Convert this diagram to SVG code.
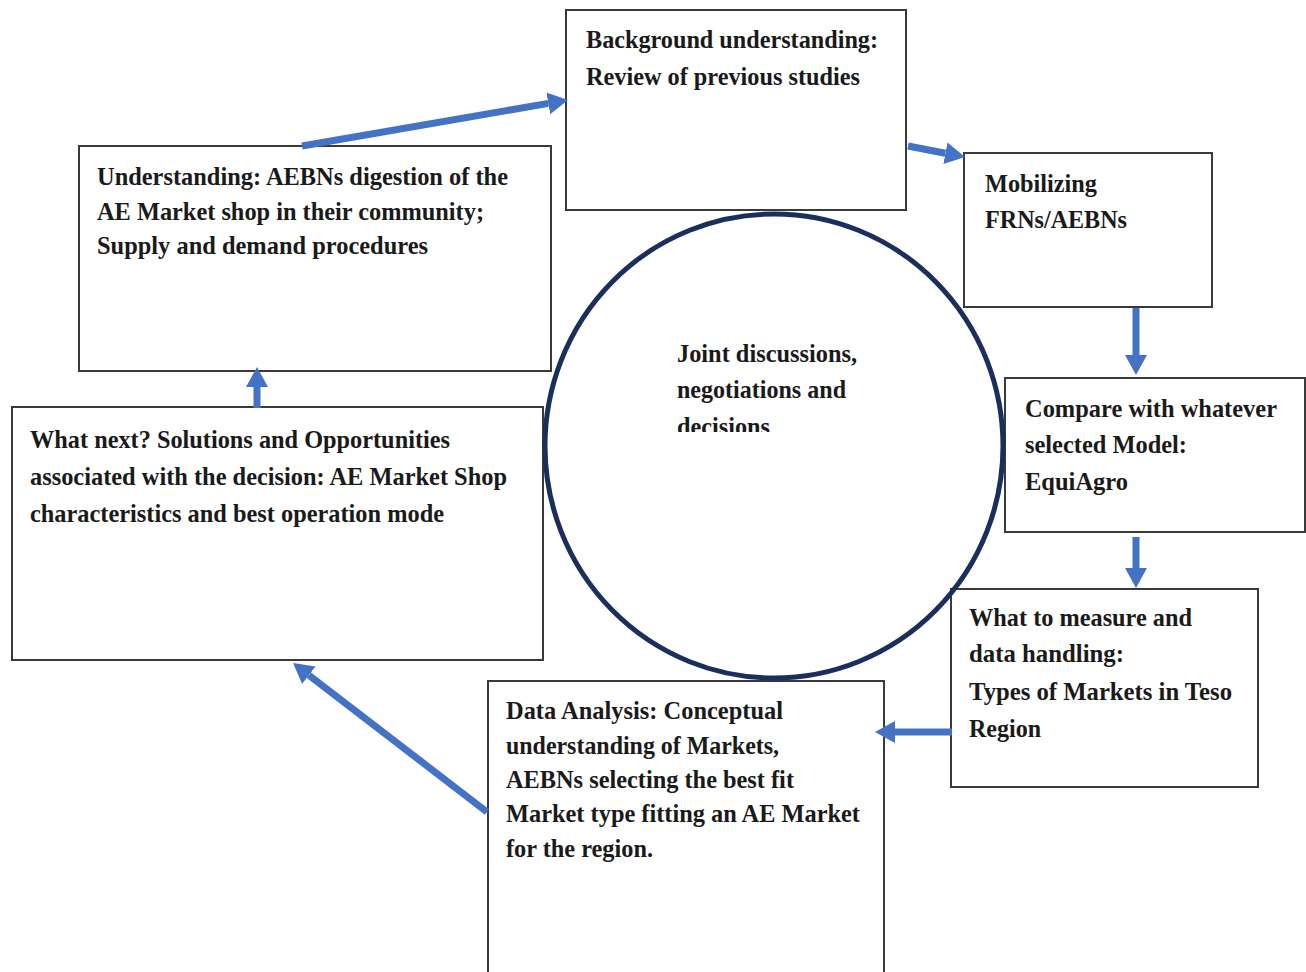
<svg xmlns="http://www.w3.org/2000/svg" width="1306" height="972" viewBox="0 0 1306 972">
<style>
.box{fill:#fff;stroke:#3a3a3a;stroke-width:2}
.t{font-family:"Liberation Serif","Times New Roman",serif;font-weight:bold;font-size:26px;fill:#1a1a1a}
.arr{stroke:#4472C4;stroke-width:7;fill:none;marker-end:url(#ah)}
</style>
<defs>
<marker id="ah" markerUnits="userSpaceOnUse" viewBox="0 -11 20 22" markerWidth="20" markerHeight="22" refX="0" refY="0" orient="auto">
<path d="M0,-11 L20,0 L0,11 z" fill="#4472C4"/>
</marker>
<clipPath id="cc"><rect x="600" y="300" width="300" height="132"/></clipPath>
</defs>
<rect width="1306" height="972" fill="#fff"/>

<g id="background">
<rect class="box" x="566" y="10" width="340" height="200"/>
<text class="t" x="586" y="48" textLength="292" lengthAdjust="spacingAndGlyphs">Background understanding:</text>
<text class="t" x="586" y="85" textLength="274" lengthAdjust="spacingAndGlyphs">Review of previous studies</text>
</g>

<g id="mobilizing">
<rect class="box" x="964" y="153" width="248" height="154"/>
<text class="t" x="985" y="192" textLength="112" lengthAdjust="spacingAndGlyphs">Mobilizing</text>
<text class="t" x="985" y="228" textLength="142" lengthAdjust="spacingAndGlyphs">FRNs/AEBNs</text>
</g>

<g id="compare">
<rect class="box" x="1005" y="378" width="300" height="154"/>
<text class="t" x="1025" y="417" textLength="252" lengthAdjust="spacingAndGlyphs">Compare with whatever</text>
<text class="t" x="1025" y="453" textLength="162" lengthAdjust="spacingAndGlyphs">selected Model:</text>
<text class="t" x="1025" y="490" textLength="103" lengthAdjust="spacingAndGlyphs">EquiAgro</text>
</g>

<g id="measure">
<rect class="box" x="951" y="589" width="307" height="198"/>
<text class="t" x="969" y="626" textLength="223" lengthAdjust="spacingAndGlyphs">What to measure and</text>
<text class="t" x="969" y="662" textLength="155" lengthAdjust="spacingAndGlyphs">data handling:</text>
<text class="t" x="969" y="700" textLength="263" lengthAdjust="spacingAndGlyphs">Types of Markets in Teso</text>
<text class="t" x="969" y="737" textLength="72" lengthAdjust="spacingAndGlyphs">Region</text>
</g>

<g id="analysis">
<rect class="box" x="488" y="681" width="396" height="295"/>
<text class="t" x="506" y="719" textLength="277" lengthAdjust="spacingAndGlyphs">Data Analysis: Conceptual</text>
<text class="t" x="506" y="754" textLength="273" lengthAdjust="spacingAndGlyphs">understanding of Markets,</text>
<text class="t" x="506" y="788" textLength="288" lengthAdjust="spacingAndGlyphs">AEBNs selecting the best fit</text>
<text class="t" x="506" y="822" textLength="354" lengthAdjust="spacingAndGlyphs">Market type fitting an AE Market</text>
<text class="t" x="506" y="857" textLength="147" lengthAdjust="spacingAndGlyphs">for the region.</text>
</g>

<g id="whatnext">
<rect class="box" x="12" y="407" width="531" height="253"/>
<text class="t" x="30" y="448" textLength="420" lengthAdjust="spacingAndGlyphs">What next? Solutions and Opportunities</text>
<text class="t" x="30" y="485" textLength="477" lengthAdjust="spacingAndGlyphs">associated with the decision: AE Market Shop</text>
<text class="t" x="30" y="522" textLength="414" lengthAdjust="spacingAndGlyphs">characteristics and best operation mode</text>
</g>

<g id="understanding">
<rect class="box" x="79" y="146" width="472" height="225"/>
<text class="t" x="97" y="185" textLength="411" lengthAdjust="spacingAndGlyphs">Understanding: AEBNs digestion of the</text>
<text class="t" x="97" y="220" textLength="387" lengthAdjust="spacingAndGlyphs">AE Market shop in their community;</text>
<text class="t" x="97" y="254" textLength="331" lengthAdjust="spacingAndGlyphs">Supply and demand procedures</text>
</g>

<g id="center">
<ellipse cx="774" cy="446" rx="229" ry="232" fill="none" stroke="#1b2f5c" stroke-width="5"/>
<g clip-path="url(#cc)">
<text class="t" x="677" y="362" textLength="180" lengthAdjust="spacingAndGlyphs">Joint discussions,</text>
<text class="t" x="677" y="398" textLength="169" lengthAdjust="spacingAndGlyphs">negotiations and</text>
<text class="t" x="677" y="435" textLength="93" lengthAdjust="spacingAndGlyphs">decisions</text>
</g>
</g>

<g id="connectors">
<line class="arr" x1="302" y1="146" x2="548.3" y2="103.4"/>
<line class="arr" x1="908" y1="146" x2="945.4" y2="153.2"/>
<line class="arr" x1="1136" y1="308" x2="1136" y2="355"/>
<line class="arr" x1="1136" y1="537" x2="1136" y2="568"/>
<line class="arr" x1="952" y1="732" x2="895" y2="732"/>
<line class="arr" x1="487" y1="812" x2="308.9" y2="675.2"/>
<line class="arr" x1="257" y1="408" x2="257" y2="387"/>
</g>
</svg>
